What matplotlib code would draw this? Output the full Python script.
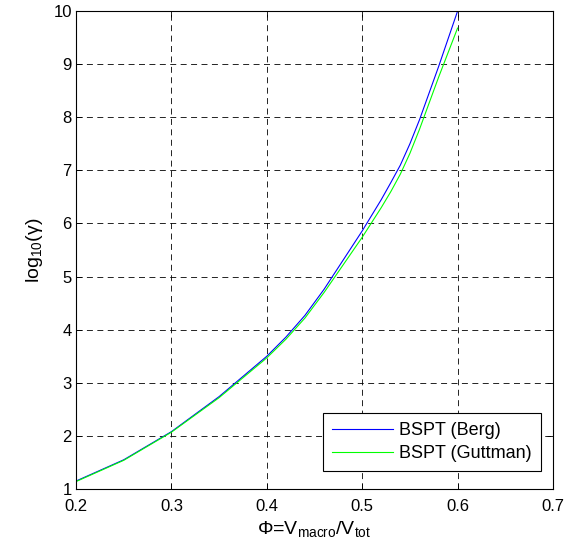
import matplotlib
matplotlib.use("Agg")
import matplotlib.pyplot as plt

plt.rcParams['font.family'] = ['Liberation Sans', 'DejaVu Sans']
plt.rcParams['mathtext.fontset'] = 'custom'
plt.rcParams['mathtext.rm'] = 'Liberation Sans'
plt.rcParams['mathtext.it'] = 'Liberation Sans:italic'
plt.rcParams['lines.scale_dashes'] = False

# values
phi_berg = [0.20, 0.25, 0.30, 0.35, 0.40, 0.42, 0.44, 0.46, 0.48, 0.50, 0.52, 0.53, 0.54, 0.55, 0.56, 0.58, 0.60]
log_berg = [1.15, 1.55, 2.08, 2.74, 3.50, 3.86, 4.27, 4.76, 5.31, 5.86, 6.45, 6.77, 7.10, 7.50, 7.95, 8.95, 10.0]

phi_gutt = [0.20, 0.25, 0.30, 0.35, 0.40, 0.42, 0.44, 0.46, 0.48, 0.50, 0.52, 0.53, 0.54, 0.55, 0.56, 0.58, 0.60]
log_gutt = [1.14, 1.54, 2.07, 2.72, 3.47, 3.82, 4.22, 4.70, 5.22, 5.74, 6.30, 6.60, 6.93, 7.32, 7.77, 8.75, 9.68]

xticks = [0.2, 0.3, 0.4, 0.5, 0.6, 0.7]
yticks = [1, 2, 3, 4, 5, 6, 7, 8, 9, 10]

fig = plt.figure(figsize=(5.66, 5.54), dpi=100)
ax = fig.add_axes([0.1343, 0.1173, 0.8427, 0.8627])

ax.plot(phi_berg, log_berg, color='#0000ff', lw=0.8, label='BSPT (Berg)')
ax.plot(phi_gutt, log_gutt, color='#00ff00', lw=0.8, label='BSPT (Guttman)')

ax.set_xlim(0.2, 0.7)
ax.set_ylim(1, 10)
ax.set_xticks(xticks)
ax.set_xticklabels([str(t) for t in xticks])
ax.set_yticks(yticks)
ax.set_yticklabels([str(t) for t in yticks])
ax.tick_params(direction='in', top=True, right=True, length=4, width=0.6,
               labelsize=12)
ax.tick_params(axis='x', pad=7)
ax.tick_params(axis='y', pad=3)
ax.grid(True, color='k', linestyle=(0, (4.3, 3.2)), linewidth=0.6)
for s in ax.spines.values():
    s.set_linewidth(0.8)

ax.set_xlabel(r'Φ=V$_{\mathrm{macro}}$/V$_{\mathrm{tot}}$', fontsize=14, labelpad=4)
ax.set_ylabel(r'log$_{10}$(γ)', fontsize=14, labelpad=6)

leg = ax.legend(loc='lower right', bbox_to_anchor=(0.975, 0.038), fontsize=13,
                fancybox=False, framealpha=1, edgecolor='k', borderpad=0.5,
                handlelength=3.4, handletextpad=0.35, labelspacing=0.3,
                borderaxespad=0)
leg.get_frame().set_linewidth(0.8)

fig.savefig('out.png', dpi=100)
